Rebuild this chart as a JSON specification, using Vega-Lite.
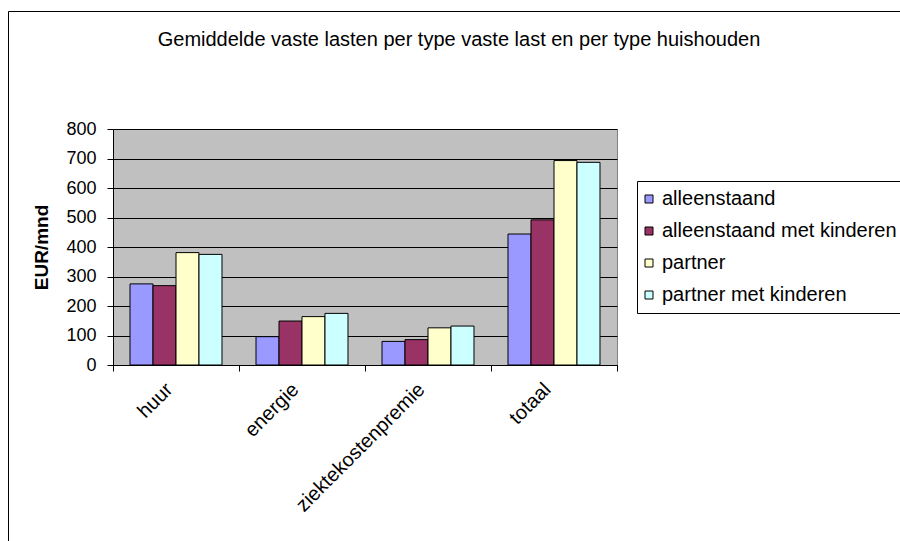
{
  "$schema": "https://vega.github.io/schema/vega-lite/v6.json",
  "autosize": "none",
  "padding": {"left": 113, "top": 129, "right": 283, "bottom": 176},
  "width": 504,
  "height": 236,
  "background": "#ffffff",
  "title": {
    "text": "Gemiddelde vaste lasten per type vaste last en per type huishouden",
    "anchor": "middle",
    "frame": "group",
    "dx": 94,
    "offset": -55,
    "baseline": "alphabetic",
    "font": "Liberation Sans",
    "fontSize": 20,
    "fontWeight": "normal",
    "color": "#000000"
  },
  "data": {
    "values": [
      {"last": "huur", "huishouden": "alleenstaand", "bedrag": 275},
      {"last": "huur", "huishouden": "alleenstaand met kinderen", "bedrag": 269},
      {"last": "huur", "huishouden": "partner", "bedrag": 381},
      {"last": "huur", "huishouden": "partner met kinderen", "bedrag": 375},
      {"last": "energie", "huishouden": "alleenstaand", "bedrag": 96},
      {"last": "energie", "huishouden": "alleenstaand met kinderen", "bedrag": 149},
      {"last": "energie", "huishouden": "partner", "bedrag": 164},
      {"last": "energie", "huishouden": "partner met kinderen", "bedrag": 175},
      {"last": "ziektekostenpremie", "huishouden": "alleenstaand", "bedrag": 80},
      {"last": "ziektekostenpremie", "huishouden": "alleenstaand met kinderen", "bedrag": 86},
      {"last": "ziektekostenpremie", "huishouden": "partner", "bedrag": 126},
      {"last": "ziektekostenpremie", "huishouden": "partner met kinderen", "bedrag": 132},
      {"last": "totaal", "huishouden": "alleenstaand", "bedrag": 444},
      {"last": "totaal", "huishouden": "alleenstaand met kinderen", "bedrag": 492},
      {"last": "totaal", "huishouden": "partner", "bedrag": 693},
      {"last": "totaal", "huishouden": "partner met kinderen", "bedrag": 687}
    ]
  },
  "mark": {"type": "bar", "stroke": "#000000", "strokeWidth": 1},
  "encoding": {
    "x": {
      "field": "last",
      "type": "nominal",
      "sort": null,
      "scale": {"paddingInner": 0, "paddingOuter": 0},
      "axis": {
        "title": null,
        "labelAngle": -45,
        "labelFontSize": 20,
        "labelPadding": 8,
        "labelOffset": -14,
        "tickBand": "extent",
        "tickSize": 6,
        "tickColor": "#000000",
        "domainColor": "#000000",
        "grid": false
      }
    },
    "xOffset": {
      "field": "huishouden",
      "type": "nominal",
      "sort": null,
      "scale": {"paddingOuter": 0.74, "paddingInner": 0}
    },
    "y": {
      "field": "bedrag",
      "type": "quantitative",
      "scale": {"domain": [0, 800], "nice": false},
      "axis": {
        "title": "EUR/mnd",
        "titleFontSize": 19,
        "titleFontWeight": "bold",
        "titlePadding": 14,
        "values": [0, 100, 200, 300, 400, 500, 600, 700, 800],
        "labelFontSize": 18,
        "labelPadding": 11,
        "tickSize": 6,
        "tickColor": "#000000",
        "domainColor": "#000000",
        "grid": true,
        "gridColor": "#000000",
        "gridOpacity": 1,
        "gridWidth": 1
      }
    },
    "opacity": {
      "field": "last",
      "type": "ordinal",
      "sort": null,
      "scale": {"range": [1, 1]},
      "legend": {
        "title": null,
        "orient": "none",
        "legendX": -105,
        "legendY": -118,
        "padding": 1200,
        "strokeColor": "#000000",
        "fillColor": null,
        "labelExpr": "''",
        "symbolOpacity": 0,
        "symbolSize": 0
      }
    },
    "color": {
      "field": "huishouden",
      "type": "nominal",
      "sort": null,
      "scale": {
        "domain": ["alleenstaand", "alleenstaand met kinderen", "partner", "partner met kinderen"],
        "range": ["#9999FF", "#993366", "#FFFFCC", "#CCFFFF"]
      },
      "legend": {
        "title": null,
        "orient": "none",
        "legendX": 524,
        "legendY": 52,
        "strokeColor": "#000000",
        "fillColor": "#ffffff",
        "padding": 8,
        "symbolType": "square",
        "symbolSize": 64,
        "symbolOffset": -6,
        "symbolStrokeColor": "#000000",
        "symbolStrokeWidth": 1,
        "symbolOpacity": 1,
        "labelFontSize": 20,
        "labelOffset": 3,
        "rowPadding": 12,
        "labelLimit": 400
      }
    }
  },
  "config": {
    "font": "Liberation Sans",
    "view": {"fill": "#C0C0C0", "stroke": "#808080"},
    "axis": {"labelColor": "#000000", "titleColor": "#000000"},
    "legend": {"labelColor": "#000000"}
  }
}
